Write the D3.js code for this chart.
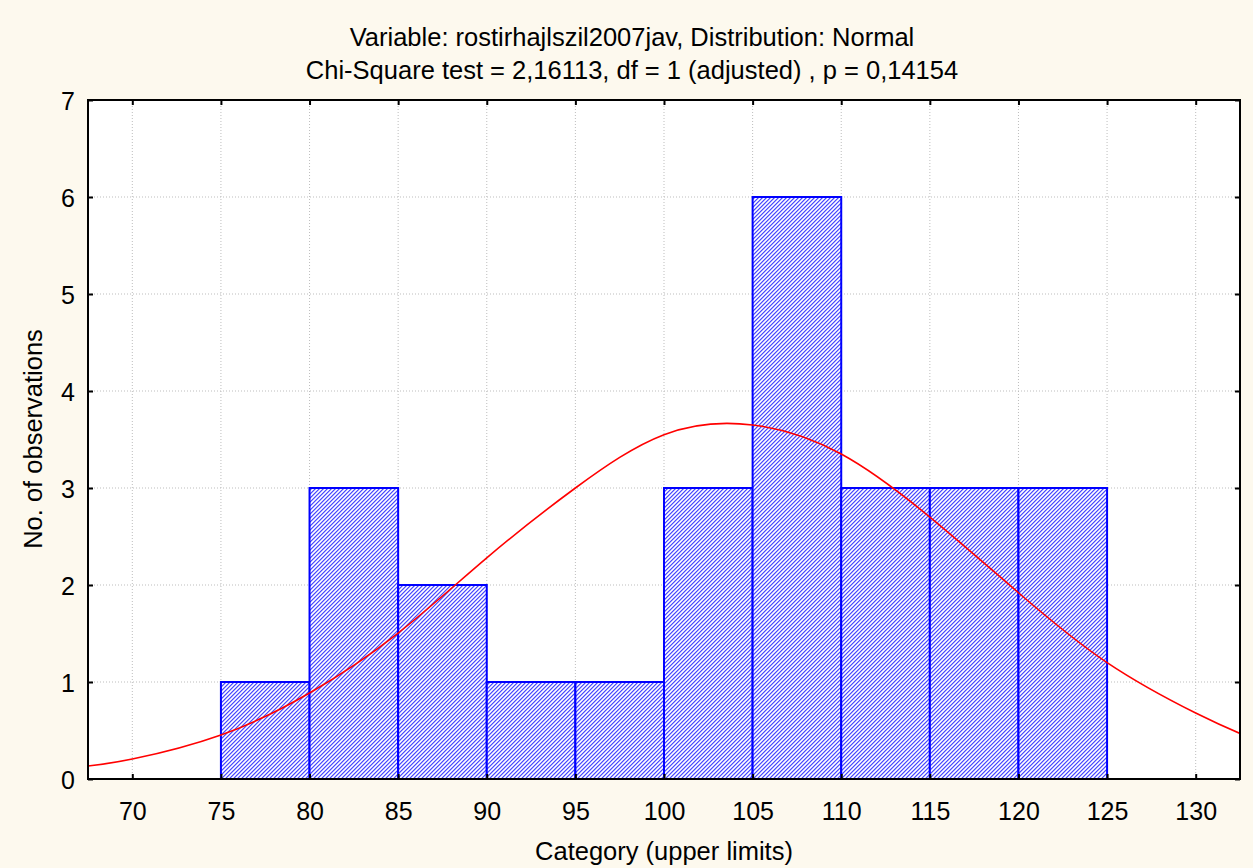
<!DOCTYPE html>
<html>
<head>
<meta charset="utf-8">
<script src="https://cdn.jsdelivr.net/npm/d3@7"></script>
<style>
  html, body { margin: 0; padding: 0; background: #fdf9ee; }
  svg { display: block; font-family: Arial, "Liberation Sans", sans-serif; }
</style>
</head>
<body>
<svg id="chart" width="1253" height="868"></svg>
<script>
// Histogram categories (upper limits of each 5-unit class) and observed counts
const upperLimits = [75, 80, 85, 90, 95, 100, 105, 110, 115, 120, 125, 130];
const counts      = [0, 1, 3, 2, 1, 1, 3, 6, 3, 3, 3, 0];
const binWidth = 5;

// Expected-count curve of the fitted normal distribution
const curveX = [67.5, 70, 75, 80, 85, 90, 95, 100, 105, 110, 115, 120, 125, 130, 132.5];
const curveY = [0.134, 0.206, 0.454, 0.887, 1.505, 2.28, 3.0, 3.55, 3.65, 3.35, 2.70, 1.92, 1.20, 0.68, 0.47];

// Axis ticks
const xTicks = [70, 75, 80, 85, 90, 95, 100, 105, 110, 115, 120, 125, 130];
const yTicks = [0, 1, 2, 3, 4, 5, 6, 7];

const titleLines = [
  "Variable: rostirhajlszil2007jav, Distribution: Normal",
  "Chi-Square test = 2,16113, df = 1 (adjusted) , p = 0,14154"
];

const svg = d3.select("#chart");
const plotL = 88, plotR = 1240, plotT = 100, plotB = 779;

const x = d3.scaleLinear().domain([67.5, 132.5]).range([plotL, plotR]);
const y = d3.scaleLinear().domain([0, 7]).range([plotB, plotT]);

// Pixel hatch pattern for the bars: "/" diagonals, 4px period
const defs = svg.append("defs");
const pat = defs.append("pattern")
  .attr("id", "hatch").attr("patternUnits", "userSpaceOnUse")
  .attr("width", 4).attr("height", 4);
pat.append("rect").attr("width", 4).attr("height", 4).attr("fill", "#ffffff");
const hatchCells = d3.range(4).flatMap(i => [
  { cx: i, cy: 3 - i, c: "#4a4aff" },
  { cx: (i + 1) % 4, cy: 3 - i, c: "#a9a9ff" },
  { cx: (i + 3) % 4, cy: 3 - i, c: "#d2d2ff" }
]);
pat.selectAll("rect.px").data(hatchCells).join("rect").attr("class", "px")
  .attr("x", d => d.cx).attr("y", d => d.cy).attr("width", 1).attr("height", 1)
  .attr("fill", d => d.c).attr("shape-rendering", "crispEdges");

defs.append("clipPath").attr("id", "plotClip")
  .append("rect").attr("x", plotL).attr("y", plotT)
  .attr("width", plotR - plotL).attr("height", plotB - plotT);

// Plot background
svg.append("rect").attr("x", plotL).attr("y", plotT)
  .attr("width", plotR - plotL).attr("height", plotB - plotT).attr("fill", "#ffffff");

// Dotted grid
const grid = svg.append("g").attr("stroke", "#bdbdbd").attr("stroke-width", 1)
  .attr("stroke-dasharray", "1,2");
grid.selectAll("line.gx").data(xTicks).join("line").attr("class", "gx")
  .attr("x1", d => x(d)).attr("x2", d => x(d)).attr("y1", plotT).attr("y2", plotB);
grid.selectAll("line.gy").data(yTicks.filter(d => d > 0 && d < 7)).join("line").attr("class", "gy")
  .attr("x1", plotL).attr("x2", plotR).attr("y1", d => y(d)).attr("y2", d => y(d));

// Bars
const bins = upperLimits.map((u, i) => ({ lo: u - binWidth, hi: u, n: counts[i] }));
svg.append("g").attr("clip-path", "url(#plotClip)")
  .selectAll("rect").data(bins).join("rect")
  .attr("x", d => x(d.lo)).attr("width", d => x(d.hi) - x(d.lo))
  .attr("y", d => y(d.n)).attr("height", d => y(0) - y(d.n))
  .attr("fill", "url(#hatch)").attr("stroke", "#0000ff").attr("stroke-width", 2);

// Fitted normal curve
const line = d3.line().x(d => x(d[0])).y(d => y(d[1])).curve(d3.curveNatural);
svg.append("path").attr("clip-path", "url(#plotClip)")
  .datum(curveX.map((v, i) => [v, curveY[i]]))
  .attr("d", line).attr("fill", "none").attr("stroke", "#ff0000").attr("stroke-width", 1.6);

// Frame
svg.append("rect").attr("x", plotL).attr("y", plotT)
  .attr("width", plotR - plotL).attr("height", plotB - plotT)
  .attr("fill", "none").attr("stroke", "#000").attr("stroke-width", 2);

// Axes with inward ticks on all four sides
const tickLen = 5;
const xb = svg.append("g").attr("transform", `translate(0,${plotB})`)
  .call(d3.axisBottom(x).tickValues(xTicks).tickSizeInner(-tickLen).tickSizeOuter(0).tickPadding(23));
const xt = svg.append("g").attr("transform", `translate(0,${plotT})`)
  .call(d3.axisTop(x).tickValues(xTicks).tickSizeInner(-tickLen).tickSizeOuter(0).tickFormat(""));
const yl = svg.append("g").attr("transform", `translate(${plotL},0)`)
  .call(d3.axisLeft(y).tickValues(yTicks).tickFormat(d3.format("d"))
    .tickSizeInner(-tickLen).tickSizeOuter(0).tickPadding(13));
const yr = svg.append("g").attr("transform", `translate(${plotR},0)`)
  .call(d3.axisRight(y).tickValues(yTicks).tickSizeInner(-tickLen).tickSizeOuter(0).tickFormat(""));
[xb, xt, yl, yr].forEach(g => {
  g.select(".domain").remove();
  g.selectAll(".tick line").attr("stroke", "#000").attr("stroke-width", 2);
  g.selectAll(".tick text").attr("fill", "#000").attr("font-size", 25)
    .attr("font-family", "Arial, 'Liberation Sans', sans-serif");
});
yl.selectAll(".tick text").attr("dy", "0.36em");

// Titles
svg.append("g").selectAll("text").data(titleLines).join("text")
  .attr("x", 632).attr("y", (d, i) => 46 + i * 33)
  .attr("text-anchor", "middle").attr("font-size", 25.5).attr("fill", "#000")
  .text(d => d);

svg.append("text").attr("x", (plotL + plotR) / 2).attr("y", 860)
  .attr("text-anchor", "middle").attr("font-size", 25.5).attr("fill", "#000")
  .text("Category (upper limits)");

svg.append("text").attr("transform", "translate(42,439) rotate(-90)")
  .attr("text-anchor", "middle").attr("font-size", 25.5).attr("fill", "#000")
  .text("No. of observations");
</script>
</body>
</html>
